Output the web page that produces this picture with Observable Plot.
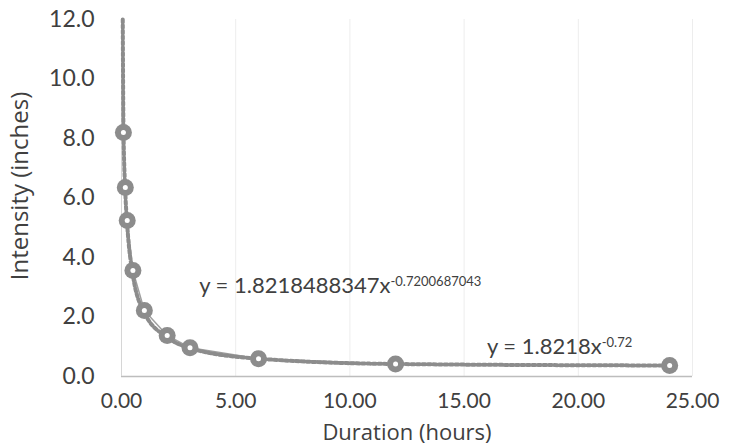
<!DOCTYPE html>
<html>
<head>
<meta charset="utf-8">
<script src="https://cdn.jsdelivr.net/npm/d3@7"></script>
<script src="https://cdn.jsdelivr.net/npm/@observablehq/plot@0.6"></script>
<style>
  html, body { margin: 0; padding: 0; background: #fff; }
  #chart { width: 732px; height: 447px; }
</style>
</head>
<body>
<div id="chart"></div>
<script>
// Data
const durations = [0.083, 0.167, 0.25, 0.5, 1, 2, 3, 6, 12, 24];          // hours
const intensities = [8.2, 6.35, 5.24, 3.56, 2.22, 1.38, 0.97, 0.6, 0.42, 0.37]; // inches

// Trend line (power fit)
const trendX = [0.055, 0.065, 0.083, 0.167, 0.25, 0.5, 1, 2, 3, 6, 12, 24];
const trendY = [12.0, 10.5, 8.5, 6.2, 5.1, 3.4, 2.15, 1.32, 0.95, 0.6, 0.42, 0.37];

const xTicks = [0, 5, 10, 15, 20, 25];
const yTicks = [0, 2, 4, 6, 8, 10, 12];

const eqTexts = ["y = 1.8218488347x^-0.7200687043", "y = 1.8218x^-0.72"];
const eqX = [3.4, 16.0];
const eqY = [3.05, 0.98];

const xTitle = "Duration (hours)";
const yTitle = "Intensity (inches)";

const pts = durations.map((d, i) => ({x: d, y: intensities[i]}));
const trend = trendX.map((d, i) => ({x: d, y: trendY[i]}));
const eqs = eqTexts.map((t, i) => ({t, x: eqX[i], y: eqY[i]}));

const gray = "#8c8c8c";
const textColor = "#404040";
const titleFont = "'Open Sans', Lato, sans-serif";

const chart = Plot.plot({
  width: 732,
  height: 447,
  marginLeft: 121,
  marginRight: 40,
  marginTop: 19,
  marginBottom: 71,
  style: {fontFamily: "Lato, 'Open Sans', sans-serif", color: textColor, background: "#fff"},
  x: {domain: [0, 25], ticks: xTicks, tickFormat: d => d.toFixed(2)},
  y: {domain: [0, 12], ticks: yTicks, tickFormat: d => d.toFixed(1)},
  marks: [
    Plot.gridX(xTicks.slice(1), {stroke: "#ededed", strokeOpacity: 1}),
    Plot.ruleY([0], {stroke: "#bdbdbd", strokeWidth: 1.5}),
    Plot.ruleX([0], {stroke: "#d6d6d6", strokeWidth: 1}),
    Plot.axisX({ticks: xTicks, tickFormat: d => d.toFixed(2), tickSize: 0, tickPadding: 17, fontSize: 21, label: null, fill: textColor}),
    Plot.axisY({ticks: yTicks, tickFormat: d => d.toFixed(1), tickSize: 0, tickPadding: 27, fontSize: 23, label: null, fill: textColor}),
    Plot.line(pts, {x: "x", y: "y", stroke: "#a0a0a0", strokeWidth: 1.5}),
    Plot.line(trend, {x: "x", y: "y", stroke: gray, strokeWidth: 4, strokeDasharray: "3,2.5", curve: "monotone-x"}),
    Plot.dot(pts, {x: "x", y: "y", r: 8.5, fill: gray, stroke: "none"}),
    Plot.dot(pts, {x: "x", y: "y", r: 2.5, fill: "#fff", stroke: "none"}),
    Plot.text(eqs, {x: "x", y: "y", text: "t", textAnchor: "start", fontSize: 22, fill: textColor}),
    Plot.text([xTitle], {frameAnchor: "bottom", textAnchor: "middle", lineAnchor: "middle", dy: 56, fontSize: 22, fontFamily: titleFont, fill: textColor}),
    Plot.text([yTitle], {frameAnchor: "left", textAnchor: "middle", lineAnchor: "middle", dx: -101, dy: -12, rotate: -90, fontSize: 24, fontFamily: titleFont, fill: textColor})
  ]
});

// Render equation exponents as superscripts
d3.select(chart).selectAll("text").each(function() {
  const s = this.textContent;
  if (s.includes("^")) {
    const [main, sup] = s.split("^");
    const el = d3.select(this);
    el.text(null);
    el.append("tspan").text(main);
    el.append("tspan").attr("dy", "-0.55em").attr("font-size", 13).text(sup);
  }
});

document.getElementById("chart").appendChild(chart);
</script>
</body>
</html>
